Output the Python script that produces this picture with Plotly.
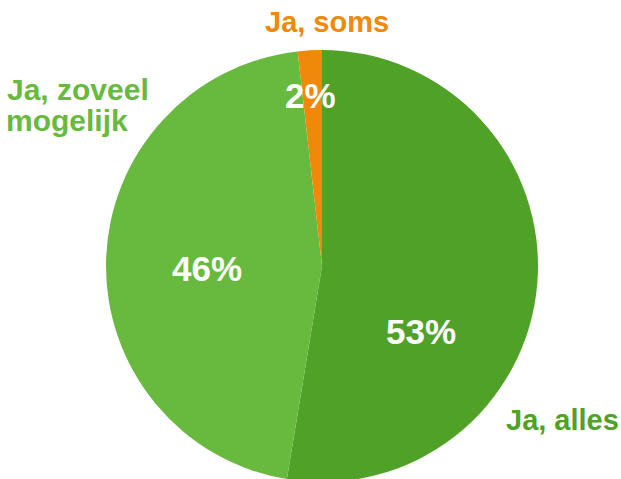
import plotly.graph_objects as go

categories = ["Ja, alles", "Ja, zoveel mogelijk", "Ja, soms"]
values = [52.6, 45.6, 1.8]
colors = ["#50a128", "#67ba3e", "#f0880a"]

W, H = 621, 490
cx, cy, r = 322, 266, 216

fig = go.Figure(go.Pie(
    labels=categories,
    values=values,
    sort=False,
    direction="clockwise",
    rotation=0,
    marker=dict(colors=colors, line=dict(width=0)),
    textinfo="none",
    hoverinfo="label+percent",
    showlegend=False,
    domain=dict(x=[(cx - r) / W, (cx + r) / W], y=[(H - cy - r) / H, (H - cy + r) / H]),
))

total = sum(values)
pct = [f"{round(v / total * 100)}%" for v in values]

def px(x, y):
    return x / W, 1 - y / H

anns = []
# percentage labels inside slices
for text, (x, y) in zip(pct, [(421, 331), (207, 268), (310, 95)]):
    ax, ay = px(x, y)
    anns.append(dict(x=ax, y=ay, xref="paper", yref="paper", text=text, showarrow=False,
                     xanchor="center", yanchor="middle",
                     font=dict(family="Liberation Sans", size=35, color="white", weight="bold")))

# category labels outside
outer = [
    ("Ja, alles", colors[0], 562, 420, 29),
    ("Ja, soms", colors[2], 327, 22, 29),
    ("Ja, zoveel", colors[1], 78, 90, 30),
    ("mogelijk", colors[1], 67, 121, 30),
]
for text, col, x, y, size in outer:
    ax, ay = px(x, y)
    anns.append(dict(x=ax, y=ay, xref="paper", yref="paper", text=text, showarrow=False,
                     xanchor="center", yanchor="middle", borderpad=0,
                     font=dict(family="Liberation Sans", size=size, color=col, weight="bold")))

fig.update_layout(
    width=W, height=H,
    margin=dict(l=0, r=0, t=0, b=0),
    paper_bgcolor="white", plot_bgcolor="white",
    annotations=anns,
)

fig.write_html(
    "out.html",
    config={"displayModeBar": False},
    post_script="document.body.style.margin='0';document.body.style.overflow='hidden';",
)
